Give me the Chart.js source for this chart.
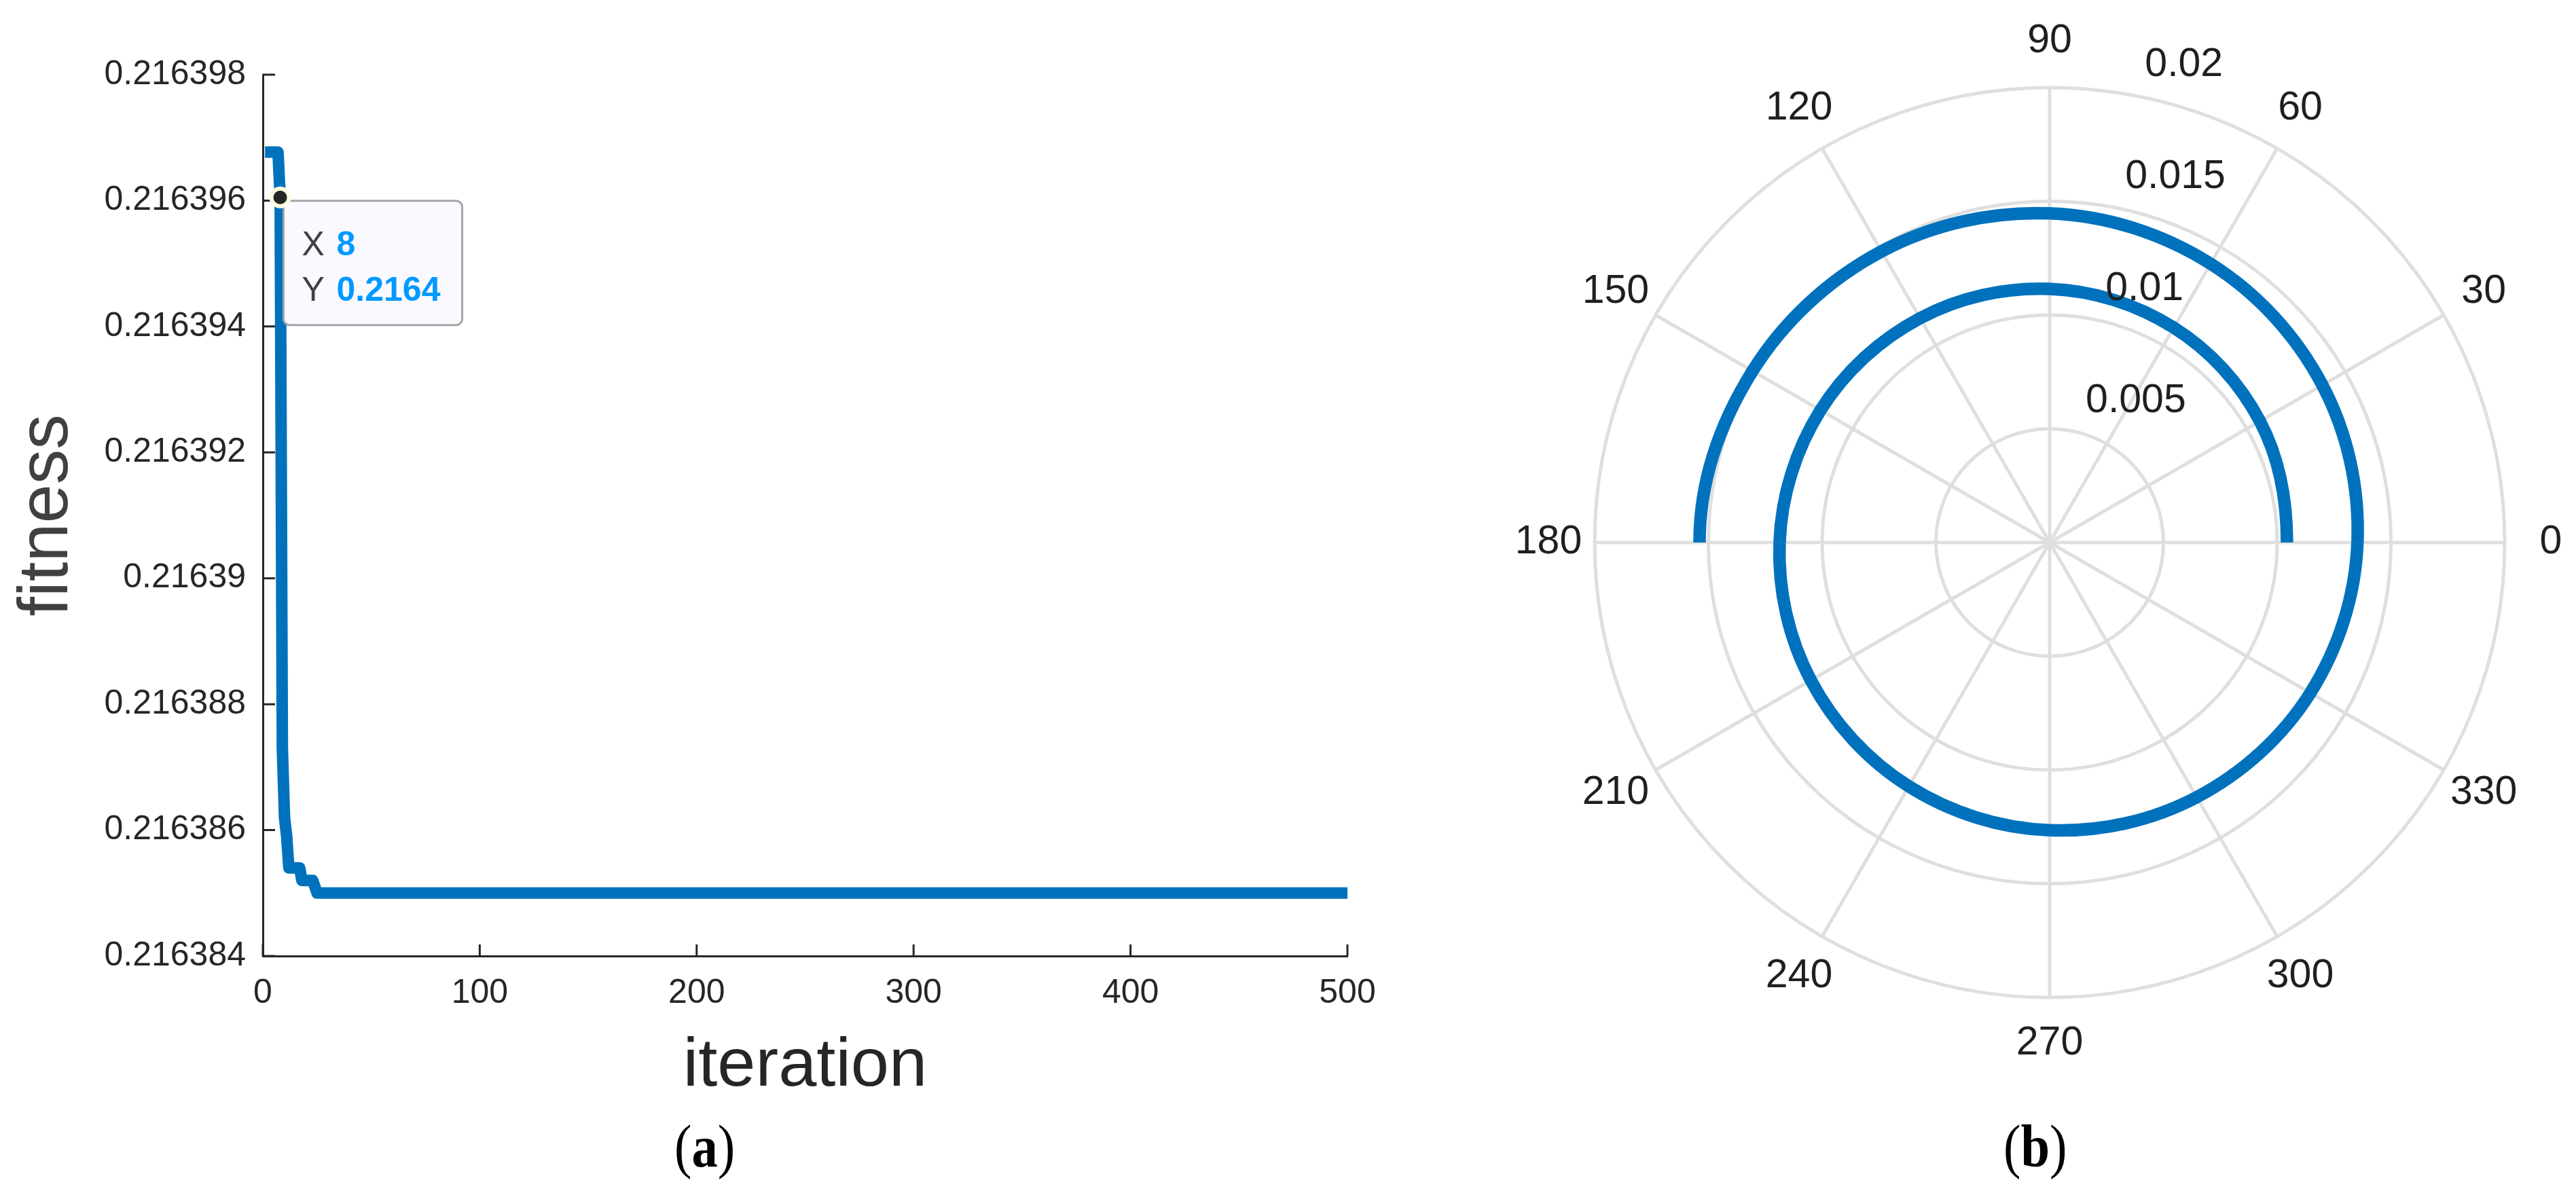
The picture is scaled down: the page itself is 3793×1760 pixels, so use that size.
<!DOCTYPE html>
<html>
<head>
<meta charset="utf-8">
<title>fitness / polar</title>
<script src="https://cdn.jsdelivr.net/npm/chart.js@4.4.0/dist/chart.umd.min.js"></script>
<style>
    html, body { margin: 0; padding: 0; background: #fff; }
    body { width: 3793px; height: 1760px; position: relative; overflow: hidden; }
    canvas { position: absolute; top: 0; }
    #fitnessChart { left: 0; }
    #polarChart { left: 2150px; }
</style>
</head>
<body>
<canvas id="fitnessChart" width="2150" height="1760"></canvas>
<canvas id="polarChart" width="1643" height="1760"></canvas>
<script>
// ==============================================================
// (a) convergence curve
// ==============================================================
var iterations = [1, 7, 8, 9, 10, 11, 12, 17, 18, 23, 24, 25, 500];
var fitness = [0.21639677, 0.21639677, 0.21639605, 0.2163873, 0.2163862, 0.2163859,
               0.2163854, 0.2163854, 0.2163852, 0.2163852, 0.2163851, 0.216385, 0.216385];
var xTicks = [0, 100, 200, 300, 400, 500];
var yTicks = [0.216384, 0.216386, 0.216388, 0.21639, 0.216392, 0.216394, 0.216396, 0.216398];
// datatip
var tipX = 8;
var tipY = 0.21639605;

// ==============================================================
// (b) polar plot
// ==============================================================
var thetaDeg = [0, 30, 60, 90, 120, 150, 180, 210, 240, 270, 300, 330,
                360, 390, 420, 450, 480, 510, 540];
var rho = [0.01043, 0.01067, 0.01091, 0.01115, 0.01139, 0.01163, 0.01187, 0.01212, 0.01238,
           0.01265, 0.01293, 0.01323, 0.01353, 0.01384, 0.01415, 0.01447, 0.01478, 0.01508, 0.01539];
var thetaTicks = [0, 30, 60, 90, 120, 150, 180, 210, 240, 270, 300, 330];
var rTicks = [0, 0.005, 0.01, 0.015, 0.02];
var rLabelAngle = 80;
var turns = [[0, 180], [180, 360], [360, 540]];

var sans = '"Liberation Sans", Arial, Helvetica, sans-serif';
var serif = '"Liberation Serif", "Times New Roman", serif';
var lineBlue = '#0072bd';
var spiralTension = 0.35;

Chart.defaults.font.family = sans;

function drawCaption(ctx, letter, left, baseline) {
    ctx.save();
    ctx.translate(left, baseline);
    ctx.scale(0.87, 1);
    ctx.fillStyle = '#000';
    ctx.textAlign = 'left';
    ctx.textBaseline = 'alphabetic';
    var x = 0;
    ctx.font = '88px ' + serif;
    ctx.fillText('(', x, 0);
    x += ctx.measureText('(').width;
    ctx.font = 'bold 88px ' + serif;
    ctx.fillText(letter, x, 0);
    x += ctx.measureText(letter).width;
    ctx.font = '88px ' + serif;
    ctx.fillText(')', x, 0);
    ctx.restore();
}

function roundBox(ctx, x, y, w, h, r) {
    ctx.beginPath();
    ctx.moveTo(x + r, y);
    ctx.arcTo(x + w, y, x + w, y + h, r);
    ctx.arcTo(x + w, y + h, x, y + h, r);
    ctx.arcTo(x, y + h, x, y, r);
    ctx.arcTo(x, y, x + w, y, r);
    ctx.closePath();
}

// inward tick marks (MATLAB style)
var inwardTicks = {
    id: 'inwardTicks',
    beforeDatasetsDraw: function (chart) {
        var ctx = chart.ctx, area = chart.chartArea;
        var xs = chart.scales.x, ys = chart.scales.y;
        ctx.save();
        ctx.strokeStyle = '#262626';
        ctx.lineWidth = 3;
        ctx.beginPath();
        xs.ticks.forEach(function (t) {
            var px = xs.getPixelForValue(t.value);
            ctx.moveTo(px, area.bottom);
            ctx.lineTo(px, area.bottom - 17);
        });
        ys.ticks.forEach(function (t) {
            var py = ys.getPixelForValue(t.value);
            ctx.moveTo(area.left, py);
            ctx.lineTo(area.left + 18, py);
        });
        ctx.stroke();
        ctx.restore();
    }
};

// datatip box, drawn right after the curve so the marker sits on top
var dataTip = {
    id: 'dataTip',
    afterDatasetDraw: function (chart, args) {
        if (args.index !== 0) return;
        var ctx = chart.ctx;
        var px = chart.scales.x.getPixelForValue(tipX);
        var py = chart.scales.y.getPixelForValue(tipY);
        var bx = px + 5, by = py + 5;
        ctx.save();
        roundBox(ctx, bx, by, 263, 183, 9);
        ctx.fillStyle = '#f9f9ff';
        ctx.fill();
        ctx.lineWidth = 3;
        ctx.strokeStyle = '#a6a6a6';
        ctx.stroke();
        ctx.textAlign = 'left';
        ctx.textBaseline = 'alphabetic';
        ctx.font = '50px ' + sans;
        ctx.fillStyle = '#404040';
        ctx.fillText('X', bx + 27, by + 80);
        ctx.fillText('Y', bx + 27, by + 147);
        ctx.font = 'bold 50px ' + sans;
        ctx.fillStyle = '#0099ff';
        ctx.fillText(String(tipX), bx + 78, by + 80);
        ctx.fillText(tipY.toFixed(4), bx + 78, by + 147);
        ctx.restore();
    },
    afterDraw: function (chart) {
        drawCaption(chart.ctx, 'a', 993, 1718);
    }
};

new Chart(document.getElementById('fitnessChart'), {
    type: 'line',
    data: {
        datasets: [{
            data: iterations.map(function (x, i) { return {x: x, y: fitness[i]}; }),
            borderColor: lineBlue,
            borderWidth: 17,
            borderJoinStyle: 'round',
            borderCapStyle: 'butt',
            pointRadius: 0,
            tension: 0,
            fill: false,
            order: 2
        }, {
            data: [{x: tipX, y: tipY}],
            showLine: false,
            pointRadius: 13,
            pointBorderWidth: 6,
            pointBackgroundColor: '#262626',
            pointBorderColor: '#fffde3',
            order: 1
        }]
    },
    options: {
        responsive: false,
        animation: false,
        events: [],
        layout: {
            padding: {left: 0, top: 110, right: 166, bottom: 0}
        },
        plugins: {
            legend: {display: false},
            tooltip: {enabled: false}
        },
        scales: {
            x: {
                type: 'linear',
                min: 0,
                max: 500,
                afterBuildTicks: function (s) {
                    s.ticks = xTicks.map(function (v) { return {value: v}; });
                },
                afterFit: function (s) { s.height = 352; },
                grid: {display: false, drawTicks: false},
                border: {display: true, color: '#262626', width: 3},
                ticks: {
                    padding: 25,
                    color: '#262626',
                    font: {size: 50},
                    autoSkip: false,
                    maxRotation: 0
                },
                title: {
                    display: true,
                    text: 'iteration',
                    color: '#262626',
                    font: {size: 101, lineHeight: 1.2},
                    padding: {top: 0, bottom: 128}
                }
            },
            y: {
                type: 'linear',
                min: 0.216384,
                max: 0.216398,
                afterBuildTicks: function (s) {
                    s.ticks = yTicks.map(function (v) { return {value: v}; });
                },
                afterFit: function (s) { s.width = 387; },
                grid: {display: false, drawTicks: false},
                border: {display: true, color: '#262626', width: 3},
                ticks: {
                    padding: 25,
                    color: '#262626',
                    font: {size: 50},
                    autoSkip: false,
                    callback: function (v) { return Number(v.toFixed(6)).toString(); }
                },
                title: {
                    display: true,
                    text: 'fitness',
                    color: '#404040',
                    font: {size: 103, lineHeight: 1.2},
                    padding: {top: 9, bottom: 0}
                }
            }
        }
    },
    plugins: [inwardTicks, dataTip]
});

// ==============================================================
// polar plot via radar chart: index 0 at 0 deg (right), going clockwise
// ==============================================================
var step = 360 / thetaTicks.length;
function angleIndex(deg) {
    return ((360 - deg % 360) % 360) / step;
}
var angleLabels = [];
thetaTicks.forEach(function (t) { angleLabels[angleIndex(t)] = String(t); });

// one dataset per half turn; the neighbour point on each side is kept
// so the spline gets the right tangent at the joins, but it is not stroked
var hiddenIdx = [];
function turnData(from, to) {
    var data = angleLabels.map(function () { return null; });
    var hidden = [];
    for (var i = 0; i < thetaDeg.length; i++) {
        var t = thetaDeg[i];
        if (t >= from - step && t <= to + step) {
            data[angleIndex(t)] = rho[i];
            if (t < from || t > to) hidden.push(angleIndex(t));
        }
    }
    hiddenIdx.push(hidden);
    return data;
}

var spiralSegments = {
    id: 'spiralSegments',
    afterDatasetUpdate: function (chart, args) {
        var line = args.meta.dataset;
        var hidden = hiddenIdx[args.index];
        if (!line || !hidden || !hidden.length) return;
        var n = line.points.length;
        line._segments = line.segments.map(function (seg) {
            var s = seg.start, e = seg.end;
            while (hidden.indexOf(s) >= 0) s = (s + 1) % n;
            while (hidden.indexOf(e) >= 0) e = (e - 1 + n) % n;
            return {start: s, end: e, loop: false};
        });
        delete line._path;
    },
    // at the two free ends of the spiral, aim the spline along the circle
    beforeDatasetDraw: function (chart, args) {
        var line = args.meta.dataset;
        if (!line) return;
        var s = chart.scales.r;
        line.updateControlPoints(chart.chartArea, 'r');
        var pts = line.points, n = pts.length;
        function aim(p, q, key) {
            var ux = p.x - s.xCenter, uy = p.y - s.yCenter;
            var len = Math.sqrt(ux * ux + uy * uy) || 1;
            var tx = -uy / len, ty = ux / len;
            if (tx * (q.x - p.x) + ty * (q.y - p.y) < 0) { tx = -tx; ty = -ty; }
            var h = spiralTension * Math.sqrt((q.x - p.x) * (q.x - p.x) + (q.y - p.y) * (q.y - p.y));
            p[key + 'x'] = p.x + tx * h;
            p[key + 'y'] = p.y + ty * h;
        }
        line.segments.forEach(function (seg) {
            if (pts[(seg.start - 1 + n) % n].skip) aim(pts[seg.start], pts[(seg.start + 1) % n], 'cp2');
            if (pts[(seg.end + 1) % n].skip) aim(pts[seg.end], pts[(seg.end - 1 + n) % n], 'cp1');
        });
        delete line._path;
    }
};

var polarText = {
    id: 'polarText',
    afterDatasetsDraw: function (chart) {
        var ctx = chart.ctx, s = chart.scales.r;
        ctx.save();
        ctx.fillStyle = '#1f1f1f';
        ctx.font = '59px ' + sans;
        ctx.textAlign = 'center';
        ctx.textBaseline = 'middle';
        angleLabels.forEach(function (lab, i) {
            var p = s.getPointPosition(i, s.drawingArea + 68);
            ctx.fillText(lab, p.x, p.y);
        });
        ctx.textAlign = 'left';
        ctx.textBaseline = 'alphabetic';
        rTicks.forEach(function (v) {
            if (v === 0) return;
            var p = s.getPointPosition(angleIndex(rLabelAngle), s.getDistanceFromCenterForValue(v));
            ctx.fillText(String(v), p.x + 24, p.y - 27);
        });
        ctx.restore();
        drawCaption(ctx, 'b', 800, 1718);
    }
};

new Chart(document.getElementById('polarChart'), {
    type: 'radar',
    data: {
        labels: angleLabels,
        datasets: turns.map(function (t) {
            return {
                data: turnData(t[0], t[1]),
                borderColor: lineBlue,
                borderWidth: 18.5,
                borderCapStyle: 'butt',
                borderJoinStyle: 'round',
                pointRadius: 0,
                pointHitRadius: 0,
                tension: spiralTension,
                spanGaps: false,
                fill: false
            };
        })
    },
    options: {
        responsive: false,
        animation: false,
        events: [],
        layout: {
            padding: {left: 198, top: 129, right: 105, bottom: 291}
        },
        plugins: {
            legend: {display: false},
            tooltip: {enabled: false}
        },
        scales: {
            r: {
                min: 0,
                max: 0.02,
                startAngle: 90,
                afterBuildTicks: function (s) {
                    s.ticks = rTicks.map(function (v) { return {value: v}; });
                },
                ticks: {display: false},
                grid: {circular: true, color: '#dfdfdf', lineWidth: 5},
                angleLines: {display: true, color: '#dfdfdf', lineWidth: 5},
                pointLabels: {display: false}
            }
        }
    },
    plugins: [spiralSegments, polarText]
});
</script>
</body>
</html>
